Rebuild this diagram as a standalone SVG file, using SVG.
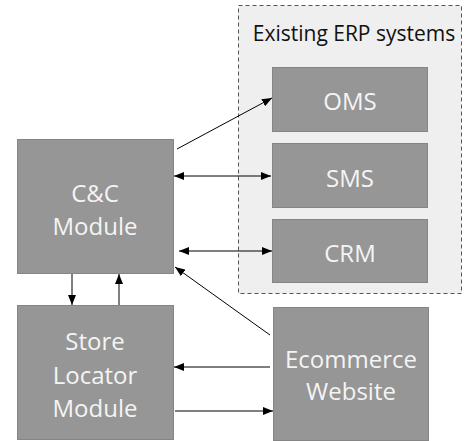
<svg xmlns="http://www.w3.org/2000/svg" width="467" height="441" viewBox="0 0 467 441">
  <style>
    .box { fill: #969696; stroke: #858585; stroke-width: 1; }
    .lbl { font-family: "Open Sans", "Noto Sans", sans-serif; font-size: 24px; fill: #f4f4f4; text-anchor: middle; dominant-baseline: central; }
    .title { font-family: "Open Sans", "Noto Sans", sans-serif; font-size: 21px; fill: #111; text-anchor: middle; dominant-baseline: central; }
    .edge { stroke: #000; stroke-width: 1; fill: none; }
  </style>
  <defs>
    <marker id="head" viewBox="0 0 10 8" refX="10" refY="4" markerWidth="10" markerHeight="8" markerUnits="userSpaceOnUse" orient="auto-start-reverse">
      <path d="M0,0 L10,4 L0,8 Z" fill="#000"/>
    </marker>
  </defs>
  <rect width="467" height="441" fill="#fff"/>

  <g id="erp-systems">
    <rect x="238.5" y="5.5" width="223" height="288" fill="#efefef" stroke="#555" stroke-width="1" stroke-dasharray="4,3"/>
    <text class="title" x="354" y="33">Existing ERP systems</text>
  </g>
  <g id="oms">
    <rect class="box" x="272.5" y="67.5" width="155" height="64"/>
    <text class="lbl" x="350" y="100">OMS</text>
  </g>
  <g id="sms">
    <rect class="box" x="272.5" y="143.5" width="155" height="64"/>
    <text class="lbl" x="350" y="177">SMS</text>
  </g>
  <g id="crm">
    <rect class="box" x="272.5" y="219.5" width="155" height="63"/>
    <text class="lbl" x="350" y="252">CRM</text>
  </g>
  <g id="cc-module">
    <rect class="box" x="17.5" y="139.5" width="156" height="134" fill="#9a9a9a"/>
    <text class="lbl" x="95" y="192">C&amp;C</text>
    <text class="lbl" x="95" y="225">Module</text>
  </g>
  <g id="store-locator">
    <rect class="box" x="17.5" y="305.5" width="156" height="134"/>
    <text class="lbl" x="95" y="340">Store</text>
    <text class="lbl" x="95" y="374">Locator</text>
    <text class="lbl" x="95" y="407">Module</text>
  </g>
  <g id="ecommerce">
    <rect class="box" x="273.5" y="307.5" width="155" height="133"/>
    <text class="lbl" x="351" y="358">Ecommerce</text>
    <text class="lbl" x="351" y="390">Website</text>
  </g>

  <g id="connectors">
    <line class="edge" x1="177" y1="149" x2="272" y2="98" marker-end="url(#head)"/>
    <line class="edge" x1="174" y1="176" x2="271" y2="176" marker-start="url(#head)" marker-end="url(#head)"/>
    <line class="edge" x1="179" y1="251" x2="272" y2="251" marker-start="url(#head)" marker-end="url(#head)"/>
    <line class="edge" x1="270" y1="335" x2="175" y2="267" marker-end="url(#head)"/>
    <line class="edge" x1="72" y1="274" x2="72" y2="305" marker-end="url(#head)"/>
    <line class="edge" x1="119" y1="305" x2="119" y2="274" marker-end="url(#head)"/>
    <line class="edge" x1="270" y1="367" x2="174" y2="367" marker-end="url(#head)"/>
    <line class="edge" x1="175" y1="411" x2="273" y2="411" marker-end="url(#head)"/>
  </g>
</svg>
